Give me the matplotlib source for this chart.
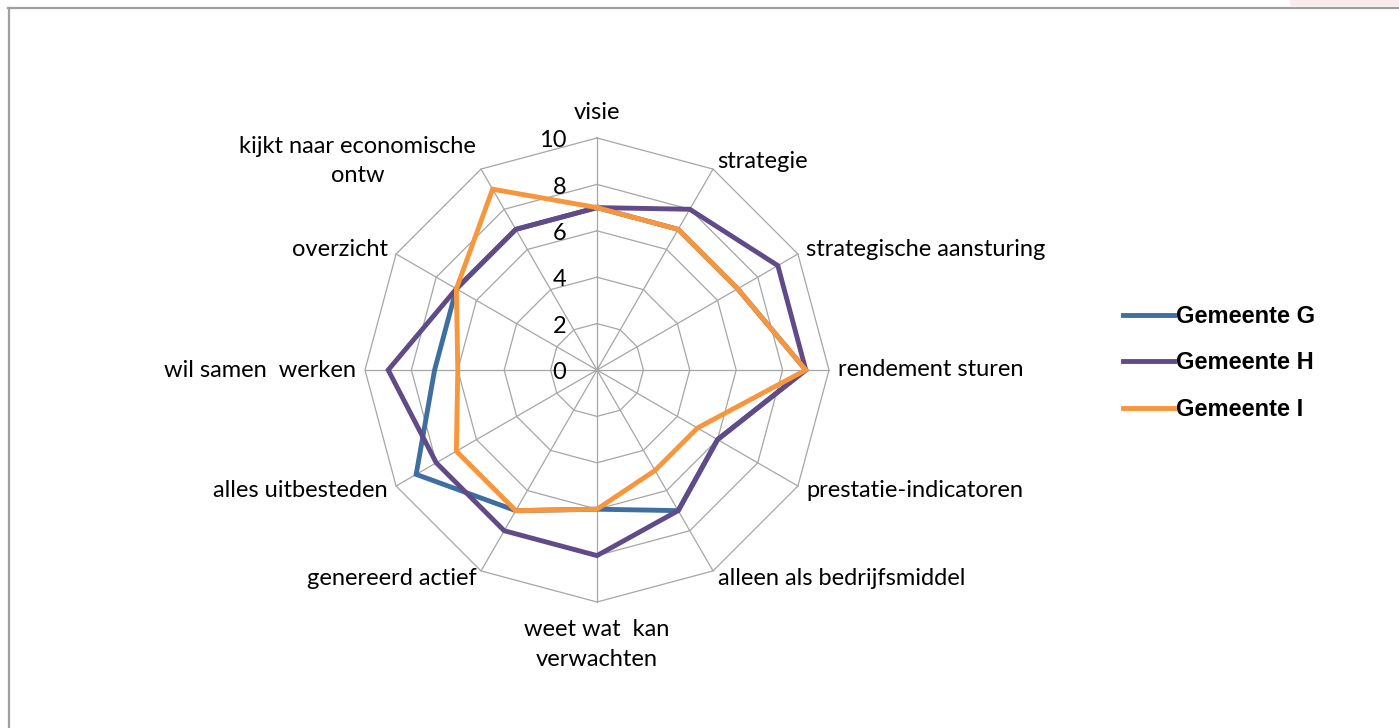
import numpy as np
import matplotlib
matplotlib.use('Agg')
import matplotlib.pyplot as plt
from matplotlib.lines import Line2D
from matplotlib.patches import Rectangle

categories = ['visie', 'strategie', 'strategische aansturing', 'rendement sturen',
              'prestatie-indicatoren', 'alleen als bedrijfsmiddel', 'weet wat  kan\nverwachten',
              'genereerd actief', 'alles uitbesteden', 'wil samen  werken', 'overzicht',
              'kijkt naar economische\nontw']
gemeente_g = [7, 7, 7, 9, 6, 7, 6, 7, 9, 7, 7, 7]
gemeente_h = [7, 8, 9, 9, 6, 7, 8, 8, 8, 9, 7, 7]
gemeente_i = [7, 7, 7, 9, 5, 5, 6, 7, 7, 6, 7, 9]
series_names = ['Gemeente G', 'Gemeente H', 'Gemeente I']
colors = ['#3e6fa0', '#604a87', '#f7963c']
rings = [2, 4, 6, 8, 10]
tick_labels = [0, 2, 4, 6, 8, 10]

W, H = 1399, 728
fig = plt.figure(figsize=(W / 100, H / 100), dpi=100)
fig.patch.set_facecolor('white')

# center of radar (597, 370) from top-left, radius 232 px
cx, cy, R = 597, 370, 232
ax = fig.add_axes([(cx - R) / W, (H - cy - R) / H, 2 * R / W, 2 * R / H], projection='polar')
ax.set_theta_zero_location('N')
ax.set_theta_direction(-1)
ax.set_ylim(0, 10)
ax.grid(False)
ax.spines['polar'].set_visible(False)
ax.set_xticks([])
ax.set_yticks([])
ax.patch.set_alpha(0)

n = len(categories)
angles = np.linspace(0, 2 * np.pi, n, endpoint=False)
closed = np.append(angles, angles[0])

grid_col = '#a6a6a6'
for r in rings:
    ax.plot(closed, [r] * (n + 1), color=grid_col, lw=0.9, clip_on=False, zorder=1)
for a in angles:
    ax.plot([a, a], [0, 10], color=grid_col, lw=0.9, clip_on=False, zorder=1)

font = 'Lato'
lbl_size = 17
for v in tick_labels:
    ax.annotate(str(v), xy=(0, v), xytext=(-22, -2), textcoords='offset points',
                ha='right', va='center', fontsize=lbl_size, family=font, color='#000000')

for a, lab in zip(angles, categories):
    deg = np.degrees(a) % 360
    r_lab = 10.4
    if deg < 1 or deg > 359:
        ha, va = 'center', 'bottom'
        r_lab = 10.65
    elif abs(deg - 180) < 1:
        ha, va = 'center', 'top'
        r_lab = 10.75
    elif deg < 180:
        ha, va = 'left', 'center'
    else:
        ha, va = 'right', 'center'
    ax.text(a, r_lab, lab, ha=ha, va=va, multialignment='center', fontsize=lbl_size,
            family=font, linespacing=1.5)

handles = []
for vals, name, c in zip([gemeente_g, gemeente_h, gemeente_i], series_names, colors):
    v = np.append(vals, vals[0])
    ln, = ax.plot(closed, v, color=c, lw=3.5, label=name, clip_on=False, zorder=3,
                  solid_joinstyle='miter')
    handles.append(ln)

fig.legend(handles=handles, loc='upper left', bbox_to_anchor=(1111 / W, 1 - 293 / H),
           frameon=False, prop={'family': 'Liberation Sans', 'weight': 'bold', 'size': 17},
           handlelength=2.15, handletextpad=0.12, labelspacing=1.0, borderpad=0)

# screenshot frame
fig.add_artist(Line2D([8 / W, 1], [1 - 8 / H, 1 - 8 / H], transform=fig.transFigure,
                      color='#a0a0a0', lw=1.6))
fig.add_artist(Line2D([9 / W, 9 / W], [0, 1 - 8 / H], transform=fig.transFigure,
                      color='#a0a0a0', lw=1.6))
fig.add_artist(Rectangle((1290 / W, 1 - 6 / H), 110 / W, 6 / H, transform=fig.transFigure,
                         color='#fbeaea', lw=0))

fig.savefig('out.png', dpi=100)
